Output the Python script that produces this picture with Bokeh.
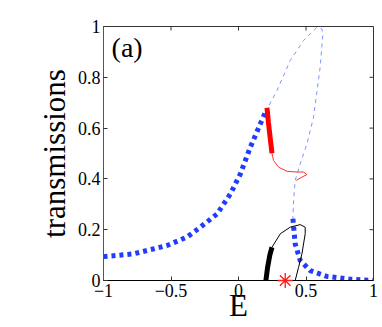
import math
from bokeh.plotting import figure
from bokeh.models import FixedTicker, Range1d, Label
from bokeh.embed import file_html
from bokeh.resources import INLINE

# stable branch 1 (thick dotted blue)
s1_E = [-1.0, -0.776, -0.529, -0.381, -0.282, -0.159, -0.06, 0.014, 0.088, 0.162, 0.199]
s1_T = [0.094, 0.105, 0.138, 0.171, 0.21, 0.262, 0.341, 0.42, 0.525, 0.617, 0.663]
# unstable branch (thin dashed blue)
u_E = [0.199, 0.285, 0.383, 0.482, 0.581, 0.618, 0.625, 0.605, 0.556, 0.507, 0.457, 0.42, 0.408, 0.403]
u_T = [0.663, 0.748, 0.866, 0.945, 0.997, 0.99, 0.971, 0.84, 0.643, 0.538, 0.459, 0.394, 0.315, 0.243]
# stable branch 2 (thick dotted blue)
s2_E = [0.403, 0.42, 0.457, 0.531, 0.655, 0.827, 1.0]
s2_T = [0.243, 0.144, 0.079, 0.039, 0.016, 0.005, 0.0]
# red thick / thin
rk_E = [0.211, 0.222, 0.235, 0.248]
rk_T = [0.68, 0.62, 0.56, 0.501]
rt_E = [0.248, 0.26, 0.297, 0.359, 0.433, 0.482, 0.507, 0.47, 0.428]
rt_T = [0.501, 0.472, 0.446, 0.43, 0.427, 0.427, 0.417, 0.407, 0.394]
# black thick / thin
bk_E = [0.203, 0.215, 0.232, 0.248]
bk_T = [0.0, 0.05, 0.1, 0.131]
bt_E = [0.248, 0.31, 0.383, 0.457, 0.494, 0.494, 0.47, 0.445, 0.42]
bt_T = [0.131, 0.184, 0.21, 0.22, 0.21, 0.184, 0.105, 0.052, 0.0]
star_E = [0.346]
star_T = [0.0]

x_ticks = [-1, -0.5, 0, 0.5, 1]
x_labels = {-1: "\u22121", -0.5: "\u22120.5", 0: "0", 0.5: "0.5", 1: "1"}
y_ticks = [0, 0.2, 0.4, 0.6, 0.8, 1]
y_labels = {0: "0", 0.2: "0.2", 0.4: "0.4", 0.6: "0.6", 0.8: "0.8", 1: "1"}

FONT = "Liberation Serif"
X_MIN, X_MAX, Y_MIN, Y_MAX = -1, 1, 0, 1

p = figure(width=382, height=327, output_backend="svg", toolbar_location=None,
           x_range=Range1d(X_MIN, X_MAX), y_range=Range1d(Y_MIN, Y_MAX),
           min_border_left=103, min_border_right=9, min_border_top=26, min_border_bottom=47)
p.grid.visible = False
p.outline_line_color = "#333333"
p.background_fill_color = "white"
p.border_fill_color = "white"

for ax in (p.xaxis[0], p.yaxis[0]):
    ax.major_tick_in = 4
    ax.major_tick_out = 0
    ax.minor_tick_line_color = None
    ax.major_label_text_font = FONT
    ax.major_label_text_font_size = "18px"
    ax.major_label_text_color = "black"
    ax.axis_label_text_font = FONT
    ax.axis_label_text_font_style = "normal"
    ax.axis_label_text_font_size = "31px"
    ax.axis_label_text_color = "black"
    ax.major_tick_line_color = "#333333"

p.xaxis[0].axis_line_color = "black"
p.yaxis[0].axis_line_color = "#555555"
p.xaxis[0].ticker = FixedTicker(ticks=x_ticks)
p.xaxis[0].major_label_overrides = x_labels
p.xaxis[0].axis_label = "E"
p.xaxis[0].major_label_standoff = 3
p.xaxis[0].axis_label_standoff = -12
p.yaxis[0].ticker = FixedTicker(ticks=y_ticks)
p.yaxis[0].major_label_overrides = y_labels
p.yaxis[0].axis_label = "transmissions"
p.yaxis[0].major_label_standoff = 3
p.yaxis[0].axis_label_standoff = 3

# mirrored inward ticks on the top and right edges of the box
p.ray(x=x_ticks, y=[Y_MAX] * len(x_ticks), length=4, length_units="screen",
      angle=-math.pi / 2, line_color="#333333", line_width=1)
p.ray(x=[X_MAX] * len(y_ticks), y=y_ticks, length=4, length_units="screen",
      angle=math.pi, line_color="#333333", line_width=1)

p.line(u_E, u_T, line_color="#7f93ff", line_width=1, line_dash="4 4")
p.line(s1_E, s1_T, line_color="#1f3cff", line_width=5, line_dash="4 4", line_cap="butt")
p.line(s2_E, s2_T, line_color="#1f3cff", line_width=5, line_dash="4 4", line_cap="butt")
p.line(rt_E, rt_T, line_color="#ff3030", line_width=1)
p.line(rk_E, rk_T, line_color="#ff0000", line_width=5)
p.line(bt_E, bt_T, line_color="black", line_width=1)
p.line(bk_E, bk_T, line_color="black", line_width=5)

# the star marker sits on the axis: draw it on the overlay level so it is not clipped
star = p.scatter(star_E, star_T, marker="asterisk", size=15, line_color="#ff1a1a", line_width=1.3)
star.level = "overlay"

p.add_layout(Label(x=-0.94, y=0.917, text="(a)", text_font=FONT, text_font_size="28px",
                   text_baseline="middle", text_color="black"))

open("out.html", "w").write(file_html(p, INLINE))
